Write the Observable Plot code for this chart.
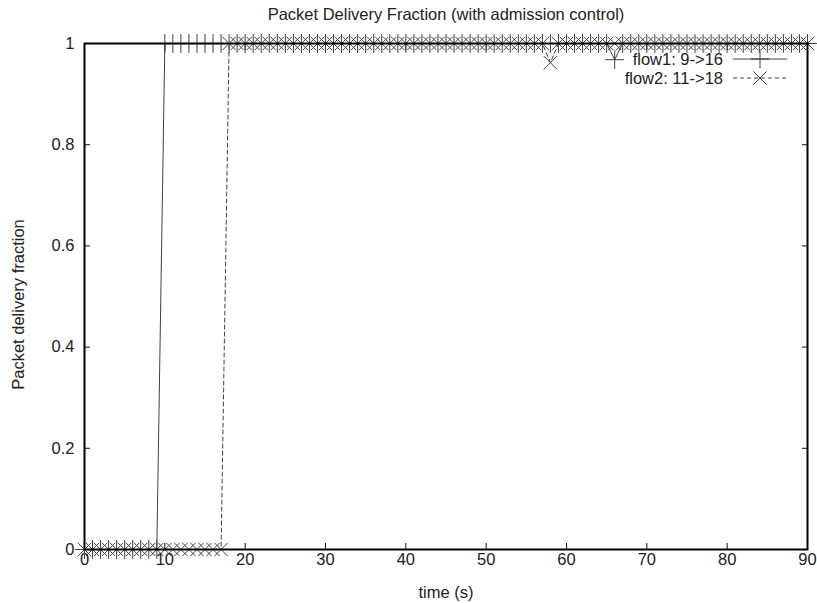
<!DOCTYPE html>
<html>
<head>
<meta charset="utf-8">
<script src="https://cdn.jsdelivr.net/npm/d3@7"></script>
<script src="https://cdn.jsdelivr.net/npm/@observablehq/plot@0.6"></script>
<style>
  html, body { margin: 0; padding: 0; background: #fff; }
  #chart { width: 817px; height: 603px; }
</style>
</head>
<body>
<div id="chart"></div>
<script>
// ---- data ----
const titleText = "Packet Delivery Fraction (with admission control)";
const xLabel = "time (s)";
const yLabel = "Packet delivery fraction";
const seriesNames = ["flow1: 9->16", "flow2: 11->18"];

const time = [
  0,1,2,3,4,5,6,7,8,9,
  10,11,12,13,14,15,16,17,18,19,
  20,21,22,23,24,25,26,27,28,29,
  30,31,32,33,34,35,36,37,38,39,
  40,41,42,43,44,45,46,47,48,49,
  50,51,52,53,54,55,56,57,58,59,
  60,61,62,63,64,65,66,67,68,69,
  70,71,72,73,74,75,76,77,78,79,
  80,81,82,83,84,85,86,87,88,89,
  90
];

const flow1 = [
  0,0,0,0,0,0,0,0,0,0,
  1,1,1,1,1,1,1,1,1,1,
  1,1,1,1,1,1,1,1,1,1,
  1,1,1,1,1,1,1,1,1,1,
  1,1,1,1,1,1,1,1,1,1,
  1,1,1,1,1,1,1,1,1,1,
  1,1,1,1,1,1,0.968,1,1,1,
  1,1,1,1,1,1,1,1,1,1,
  1,1,1,1,1,1,1,1,1,1,
  1
];

const flow2 = [
  0,0,0,0,0,0,0,0,0,0,
  0,0,0,0,0,0,0,0,1,1,
  1,1,1,1,1,1,1,1,1,1,
  1,1,1,1,1,1,1,1,1,1,
  1,1,1,1,1,1,1,1,1,1,
  1,1,1,1,1,1,1,1,0.962,1,
  1,1,1,1,1,1,1,1,1,1,
  1,1,1,1,1,1,1,1,1,1,
  1,1,1,1,1,1,1,1,1,1,
  1
];

const xTicks = [0,10,20,30,40,50,60,70,80,90];
const yTicks = [0,0.2,0.4,0.6,0.8,1];

// ---- build table ----
const data1 = time.map((t, i) => ({t, v: flow1[i]}));
const data2 = time.map((t, i) => ({t, v: flow2[i]}));

const ink = "#404040";
const font = "'Liberation Sans', Arial, Helvetica, sans-serif";
const fs = 16.5;
const mr = 6.1;

const chart = Plot.plot({
  width: 817,
  height: 603,
  marginLeft: 84,
  marginRight: 10,
  marginTop: 43,
  marginBottom: 54,
  style: {fontFamily: font, fontSize: fs + "px", color: "#222", background: "#fff", overflow: "visible"},
  x: {domain: [0, 90], label: null},
  y: {domain: [0, 1], label: null},
  marks: [
    // inward ticks (bottom/top/left/right)
    Plot.axisX(xTicks, {anchor: "bottom", tickSize: -6, fill: "none", label: null, stroke: "#111"}),
    Plot.axisX(xTicks, {anchor: "top", tickSize: -6, fill: "none", label: null, stroke: "#111"}),
    Plot.axisY(yTicks, {anchor: "left", tickSize: -6, fill: "none", label: null, stroke: "#111"}),
    Plot.axisY(yTicks, {anchor: "right", tickSize: -6, fill: "none", label: null, stroke: "#111"}),
    // tick labels
    Plot.axisX(xTicks, {anchor: "bottom", tickSize: 0, tickPadding: 4, label: null, fill: "#222", fontSize: fs}),
    Plot.axisY(yTicks, {anchor: "left", tickSize: 0, tickPadding: 10, label: null, fill: "#222", fontSize: fs, tickFormat: d => String(d)}),
    // series lines
    Plot.line(data1, {x: "t", y: "v", stroke: ink, strokeWidth: 1}),
    Plot.line(data2, {x: "t", y: "v", stroke: ink, strokeWidth: 1, strokeDasharray: "4,3"}),
    // markers
    Plot.dot(data1, {x: "t", y: "v", symbol: "plus", r: mr, stroke: ink, strokeWidth: 1}),
    Plot.dot(data2, {x: "t", y: "v", symbol: "times", r: mr, stroke: ink, strokeWidth: 1}),
    // frame
    Plot.frame({stroke: "#000", strokeWidth: 2}),
    // title & axis labels
    Plot.text([titleText], {text: d => d, frameAnchor: "top", lineAnchor: "middle", dy: -29, fontSize: fs, fill: "#222"}),
    Plot.text([xLabel], {text: d => d, frameAnchor: "bottom", lineAnchor: "middle", dy: 43, fontSize: fs, fill: "#222"}),
    Plot.text([yLabel], {text: d => d, frameAnchor: "left", textAnchor: "middle", lineAnchor: "middle", dx: -66, dy: 8, rotate: -90, fontSize: fs, fill: "#222"})
  ]
});

document.getElementById("chart").appendChild(chart);

// ---- legend (inside, top-right), drawn with d3 into the Plot svg ----
const svg = d3.select(chart);
const lg = svg.append("g").attr("font-family", font).attr("font-size", fs).attr("fill", "#222");
const rows = [
  {name: seriesNames[0], dash: null, sym: d3.symbolPlus},
  {name: seriesNames[1], dash: "4,3", sym: d3.symbolTimes}
];
rows.forEach((r, i) => {
  const yy = 59 + i * 19;
  lg.append("text").attr("x", 723).attr("y", yy).attr("dy", "0.35em").attr("text-anchor", "end").text(r.name);
  lg.append("line").attr("x1", 733).attr("x2", 787).attr("y1", yy).attr("y2", yy)
    .attr("stroke", ink).attr("stroke-width", 1).attr("stroke-dasharray", r.dash);
  lg.append("path").attr("transform", `translate(760,${yy})`)
    .attr("d", d3.symbol(r.sym, mr * mr * Math.PI)())
    .attr("fill", "none").attr("stroke", ink).attr("stroke-width", 1);
});
</script>
</body>
</html>
